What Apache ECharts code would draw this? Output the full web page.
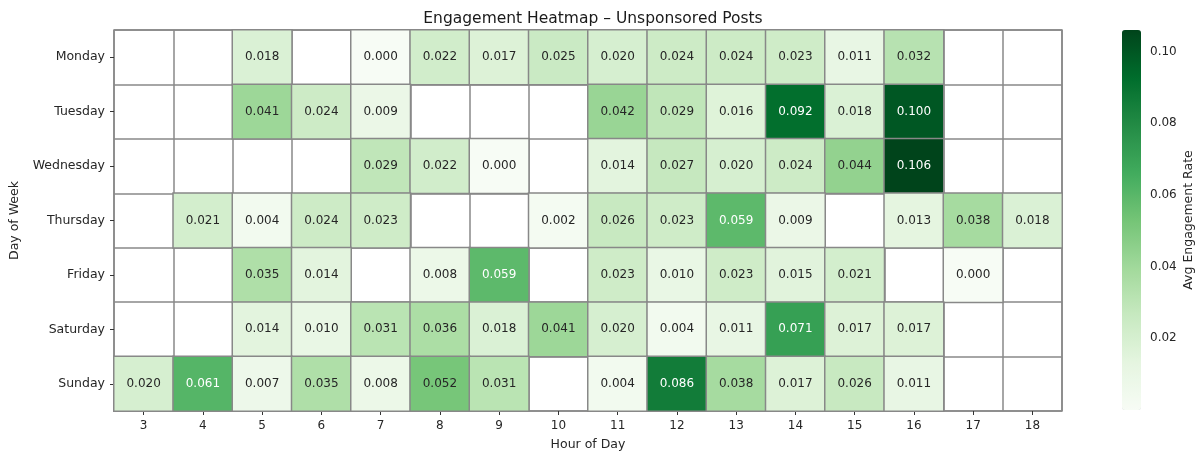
<!DOCTYPE html>
<html>
<head>
<meta charset="utf-8">
<script src="https://cdn.jsdelivr.net/npm/echarts@6/dist/echarts.min.js"></script>
<style>
  html, body { margin: 0; padding: 0; background: #fff; }
  #chart { width: 1201px; height: 454px; }
</style>
</head>
<body>
<div id="chart"></div>
<script>
// Hours shown on the x axis and days on the y axis
const hours = ['3', '4', '5', '6', '7', '8', '9', '10', '11', '12', '13', '14', '15', '16', '17', '18'];
const days = ['Monday', 'Tuesday', 'Wednesday', 'Thursday', 'Friday', 'Saturday', 'Sunday'];

// Average engagement rate per day and hour (null = no posts)
const monday    = [null, null, 0.018, null, 0.000, 0.022, 0.017, 0.025, 0.020, 0.024, 0.024, 0.023, 0.011, 0.032, null, null];
const tuesday   = [null, null, 0.041, 0.024, 0.009, null, null, null, 0.042, 0.029, 0.016, 0.092, 0.018, 0.100, null, null];
const wednesday = [null, null, null, null, 0.029, 0.022, 0.000, null, 0.014, 0.027, 0.020, 0.024, 0.044, 0.106, null, null];
const thursday  = [null, 0.021, 0.004, 0.024, 0.023, null, null, 0.002, 0.026, 0.023, 0.059, 0.009, null, 0.013, 0.038, 0.018];
const friday    = [null, null, 0.035, 0.014, null, 0.008, 0.059, null, 0.023, 0.010, 0.023, 0.015, 0.021, null, 0.000, null];
const saturday  = [null, null, 0.014, 0.010, 0.031, 0.036, 0.018, 0.041, 0.020, 0.004, 0.011, 0.071, 0.017, 0.017, null, null];
const sunday    = [0.020, 0.061, 0.007, 0.035, 0.008, 0.052, 0.031, null, 0.004, 0.086, 0.038, 0.017, 0.026, 0.011, null, null];

// Colour bar tick values
const colorbarTicks = [0.02, 0.04, 0.06, 0.08, 0.10];

const rows = [monday, tuesday, wednesday, thursday, friday, saturday, sunday];
const vMin = 0;
const vMax = 0.106;

const FONT = 'DejaVu Sans';
const GRID_LINE = '#888888';
const TEXT = '#262626';
const greens = ['#f7fcf5', '#e5f5e0', '#c7e9c0', '#a1d99b', '#74c476', '#41ab5d', '#238b45', '#006d2c', '#00441b'];

const cells = [];
rows.forEach((row, y) => {
  row.forEach((v, x) => {
    if (v === null) return;
    cells.push({
      value: [x, y, v],
      label: { color: v > 0.055 ? '#ffffff' : TEXT }
    });
  });
});

const chart = echarts.init(document.getElementById('chart'), null, { renderer: 'canvas' });

chart.setOption({
  animation: false,
  backgroundColor: '#ffffff',
  textStyle: { fontFamily: FONT },
  title: {
    text: 'Engagement Heatmap – Unsponsored Posts',
    left: 588,
    textAlign: 'center',
    top: 6,
    textStyle: { fontFamily: FONT, fontSize: 15.5, fontWeight: 'normal', color: '#1a1a1a' }
  },
  grid: [
    { left: 114, top: 30, width: 948, height: 381, outerBoundsMode: 'none', show: true, borderColor: GRID_LINE, borderWidth: 1.5, backgroundColor: '#ffffff' },
    { left: 1122, top: 30, width: 19, height: 380, outerBoundsMode: 'none', show: false }
  ],
  xAxis: [
    {
      gridIndex: 0,
      type: 'category',
      data: hours,
      axisLine: { show: false },
      axisTick: { show: true, alignWithLabel: true, length: 4, lineStyle: { color: '#333' } },
      axisLabel: { fontFamily: FONT, fontSize: 12, color: TEXT, margin: 9 },
      splitLine: { show: true, interval: 0, lineStyle: { color: GRID_LINE, width: 1.5 } },
      name: 'Hour of Day',
      nameLocation: 'middle',
      nameGap: 27,
      nameTextStyle: { fontFamily: FONT, fontSize: 12.5, color: TEXT }
    },
    { gridIndex: 1, type: 'value', show: false }
  ],
  yAxis: [
    {
      gridIndex: 0,
      type: 'category',
      data: days,
      inverse: true,
      axisLine: { show: false },
      axisTick: { show: true, alignWithLabel: true, length: 4, lineStyle: { color: '#333' } },
      axisLabel: { fontFamily: FONT, fontSize: 12.5, color: TEXT, margin: 9 },
      splitLine: { show: true, interval: 0, lineStyle: { color: GRID_LINE, width: 1.5 } },
      name: 'Day of Week',
      nameLocation: 'middle',
      nameRotate: 90,
      nameGap: 92,
      nameTextStyle: { fontFamily: FONT, fontSize: 12.5, color: TEXT }
    },
    {
      gridIndex: 1,
      type: 'value',
      position: 'right',
      min: vMin,
      max: vMax,
      axisLine: { show: false },
      axisTick: { show: true, length: 4, customValues: colorbarTicks, lineStyle: { color: '#333' } },
      axisLabel: {
        fontFamily: FONT, fontSize: 12, color: TEXT, margin: 9,
        customValues: colorbarTicks,
        formatter: v => v.toFixed(2)
      },
      splitLine: { show: false },
      name: 'Avg Engagement Rate',
      nameLocation: 'middle',
      nameRotate: 90,
      nameGap: 41,
      nameTextStyle: { fontFamily: FONT, fontSize: 12.5, color: TEXT }
    }
  ],
  visualMap: {
    type: 'continuous',
    seriesIndex: 0,
    min: vMin,
    max: vMax,
    calculable: false,
    showLabel: false,
    text: null,
    itemWidth: 19,
    itemHeight: 380,
    left: 1122,
    top: 30,
    padding: 0,
    inRange: { color: greens }
  },
  series: [
    {
      type: 'heatmap',
      xAxisIndex: 0,
      yAxisIndex: 0,
      data: cells,
      itemStyle: { borderColor: GRID_LINE, borderWidth: 1.5 },
      label: {
        show: true,
        fontFamily: FONT,
        fontSize: 12,
        formatter: p => p.value[2].toFixed(3)
      },
      emphasis: { disabled: true }
    }
  ]
});
</script>
</body>
</html>
